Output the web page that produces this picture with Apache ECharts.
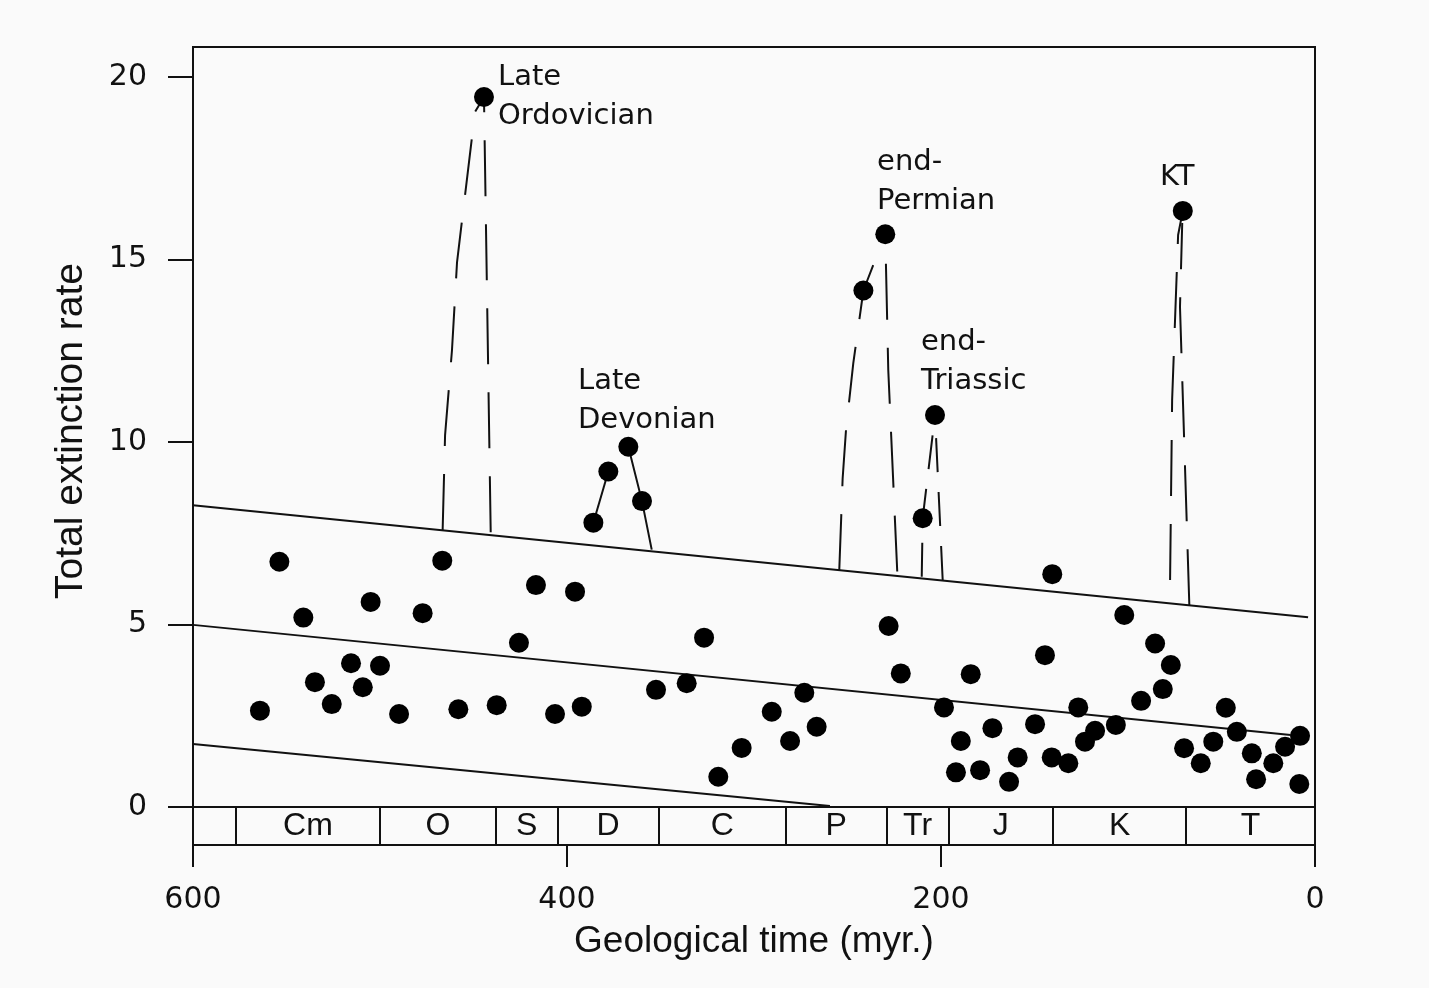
<!DOCTYPE html>
<html lang="en">
  <head>
    <meta charset="UTF-8" />
    <meta name="viewport" content="width=device-width, initial-scale=1.0" />
    <title>Total extinction rate</title>
    <style>
      * {
        padding: 0;
        margin: 0;
      }
      body {
        background: #fafafa;
      }
    </style>
    <script src="https://cdn.jsdelivr.net/npm/echarts@6/dist/echarts.min.js"></script>
  </head>
  <body>
    <div id="main" style="width: 1429px; height: 988px;"></div>
    <script type="text/javascript">
      // [myr ago, total extinction rate]
      var points = [
        [564.2, 2.64], [553.8, 6.72], [541.0, 5.19], [534.8, 3.42], [525.8, 2.82],
        [515.5, 3.94], [509.2, 3.28], [505.0, 5.62], [500.0, 3.87], [489.8, 2.55],
        [477.2, 5.31], [466.7, 6.75], [458.1, 2.68], [444.4, 19.45], [437.6, 2.79],
        [425.7, 4.50], [416.6, 6.08], [406.4, 2.55], [395.7, 5.90], [392.1, 2.75],
        [385.9, 7.79], [377.9, 9.19], [367.2, 9.87], [359.9, 8.38], [352.4, 3.21],
        [336.0, 3.39], [326.7, 4.64], [319.1, 0.83], [306.6, 1.62], [290.5, 2.61],
        [280.7, 1.81], [273.1, 3.13], [266.5, 2.20], [241.5, 14.15], [229.8, 15.69],
        [228.0, 4.96], [221.5, 3.66], [209.8, 7.91], [203.2, 10.74], [198.4, 2.73],
        [192.0, 0.95], [189.4, 1.81], [184.1, 3.64], [179.1, 1.01], [172.5, 2.16],
        [163.6, 0.69], [159.0, 1.36], [149.7, 2.27], [144.4, 4.16], [140.8, 1.36],
        [140.5, 6.38], [131.9, 1.20], [126.6, 2.73], [123.0, 1.79], [117.6, 2.09],
        [106.5, 2.25], [102.0, 5.26], [93.0, 2.91], [85.5, 4.48], [81.4, 3.23],
        [77.1, 3.89], [70.7, 16.33], [70.0, 1.61], [61.1, 1.20], [54.4, 1.79],
        [47.7, 2.72], [41.8, 2.06], [33.8, 1.47], [31.5, 0.76], [22.3, 1.20],
        [16.0, 1.65], [8.0, 1.95], [8.4, 0.63]
      ];

      // background bands (regression lines)
      var upperBand = [[600, 8.27], [3.7, 5.2]];
      var middleBand = [[600, 4.99], [13, 1.97]];
      var lowerBand = [[600, 1.73], [259.4, 0.03]];

      // dashed peak lines, drawn from the upper band up to the peak
      var ordovicianLeft = [[466.5, 7.59], [465.2, 10.19], [461.5, 12.52], [458.8, 14.93], [449.2, 19.04], [444.4, 19.45]];
      var ordovicianRight = [[440.8, 7.53], [444.4, 19.45]];
      var permianLeft = [[254.4, 6.49], [252.6, 9.0], [250.8, 10.33], [246.9, 12.16], [241.5, 14.15], [229.8, 15.69]];
      var permianRight = [[223.4, 6.45], [228.2, 11.97], [229.8, 15.69]];
      var triassicLeft = [[210.3, 6.31], [209.8, 7.91], [203.2, 10.74]];
      var triassicRight = [[199.1, 6.22], [203.2, 10.74]];
      var ktLeft = [[77.5, 6.22], [76.4, 11.15], [73.2, 15.67], [70.7, 16.33]];
      var ktRight = [[67.2, 5.53], [72.2, 13.7], [71.0, 16.0]];

      // solid Devonian connectors
      var devonianA = [[385.9, 7.79], [377.9, 9.19]];
      var devonianB = [[367.2, 9.87], [359.9, 8.38], [354.7, 7.05]];

      // [myr, rate, text] for event labels (top-left anchor)
      var eventLabels = [
        [436.9, 20.53, 'Late\nOrdovician'],
        [394.1, 12.18, 'Late\nDevonian'],
        [234.2, 18.18, 'end-\nPermian'],
        [210.7, 13.25, 'end-\nTriassic'],
        [82.9, 17.77, 'KT']
      ];

      var periodEdges = [577, 500, 438, 405, 351, 283, 229, 196, 140, 69];
      var periodNames = ['Cm', 'O', 'S', 'D', 'C', 'P', 'Tr', 'J', 'K', 'T'];
      var periodCenters = [538.5, 469, 421.5, 378, 317, 256, 212.5, 168, 104.5, 34.5];

      var yTicks = [0, 5, 10, 15, 20];
      var yMin = -1.04;
      var yMax = 20.82;

      var ink = '#111';

      function solid(data) {
        return {
          type: 'line',
          data: data,
          symbol: 'none',
          silent: true,
          z: 3,
          lineStyle: {color: ink, width: 2}
        };
      }
      function dashed(data, dash) {
        return {
          type: 'line',
          data: data,
          symbol: 'none',
          silent: true,
          z: 3,
          lineStyle: {color: ink, width: 2, type: dash || [56, 28]}
        };
      }

      var myChart = echarts.init(document.getElementById('main'));

      var option = {
        backgroundColor: '#fafafa',
        animation: false,
        grid: {
          left: 193,
          right: 114,
          top: 47,
          bottom: 143,
          show: true,
          borderColor: ink,
          borderWidth: 2
        },
        xAxis: {
          type: 'value',
          inverse: true,
          min: 0,
          max: 600,
          interval: 200,
          name: 'Geological time (myr.)',
          nameLocation: 'middle',
          nameGap: 78,
          nameTextStyle: {fontFamily: 'Liberation Sans', fontSize: 37, color: ink},
          axisLine: {onZero: false, lineStyle: {color: ink, width: 2}},
          axisTick: {length: 22, lineStyle: {color: ink, width: 2}},
          axisLabel: {margin: 40, fontFamily: 'DejaVu Sans', fontSize: 30, color: ink},
          splitLine: {show: false}
        },
        yAxis: {
          type: 'value',
          min: yMin,
          max: yMax,
          name: 'Total extinction rate',
          nameLocation: 'middle',
          nameGap: 102,
          nameRotate: 90,
          nameTextStyle: {fontFamily: 'Liberation Sans', fontSize: 39, color: ink, padding: [0, 0, 0, 30]},
          axisLine: {onZero: false, lineStyle: {color: ink, width: 2}},
          axisTick: {customValues: yTicks, length: 25, lineStyle: {color: ink, width: 2}},
          axisLabel: {customValues: yTicks, margin: 46, fontFamily: 'DejaVu Sans', fontSize: 30, color: ink},
          splitLine: {show: false}
        },
        series: [
          solid(upperBand),
          solid(middleBand),
          solid(lowerBand),
          dashed(ordovicianLeft),
          dashed(ordovicianRight),
          dashed(permianLeft),
          dashed(permianRight),
          dashed(triassicLeft, [34, 20]),
          dashed(triassicRight, [34, 20]),
          dashed(ktLeft),
          dashed(ktRight),
          solid(devonianA),
          solid(devonianB),
          // period strip: zero line plus dividers
          {
            type: 'line',
            data: [[600, 0], [0, 0]],
            symbol: 'none',
            silent: true,
            lineStyle: {color: ink, width: 2},
            markLine: {
              silent: true,
              symbol: 'none',
              label: {show: false},
              lineStyle: {color: ink, width: 2, type: 'solid'},
              data: periodEdges.map(function (e) {
                return [{coord: [e, 0]}, {coord: [e, yMin]}];
              })
            }
          },
          {
            type: 'scatter',
            data: periodCenters.map(function (c, i) {
              return {value: [c, -0.52], name: periodNames[i]};
            }),
            symbolSize: 0,
            silent: true,
            itemStyle: {opacity: 1},
            label: {
              show: true,
              position: 'inside',
              formatter: '{b}',
              fontFamily: 'Liberation Sans',
              fontSize: 32,
              color: ink
            }
          },
          {
            type: 'scatter',
            data: eventLabels.map(function (d) {
              return {value: [d[0], d[1]], name: d[2]};
            }),
            symbolSize: 0,
            silent: true,
            itemStyle: {opacity: 1},
            label: {
              show: true,
              position: [0, 0],
              align: 'left',
              verticalAlign: 'top',
              formatter: '{b}',
              fontFamily: 'DejaVu Sans',
              fontSize: 29,
              lineHeight: 39,
              color: ink
            }
          },
          {
            type: 'scatter',
            data: points,
            symbol: 'circle',
            symbolSize: 20,
            z: 5,
            itemStyle: {color: '#000', opacity: 1}
          }
        ]
      };

      myChart.setOption(option, true);
    </script>
  </body>
</html>
